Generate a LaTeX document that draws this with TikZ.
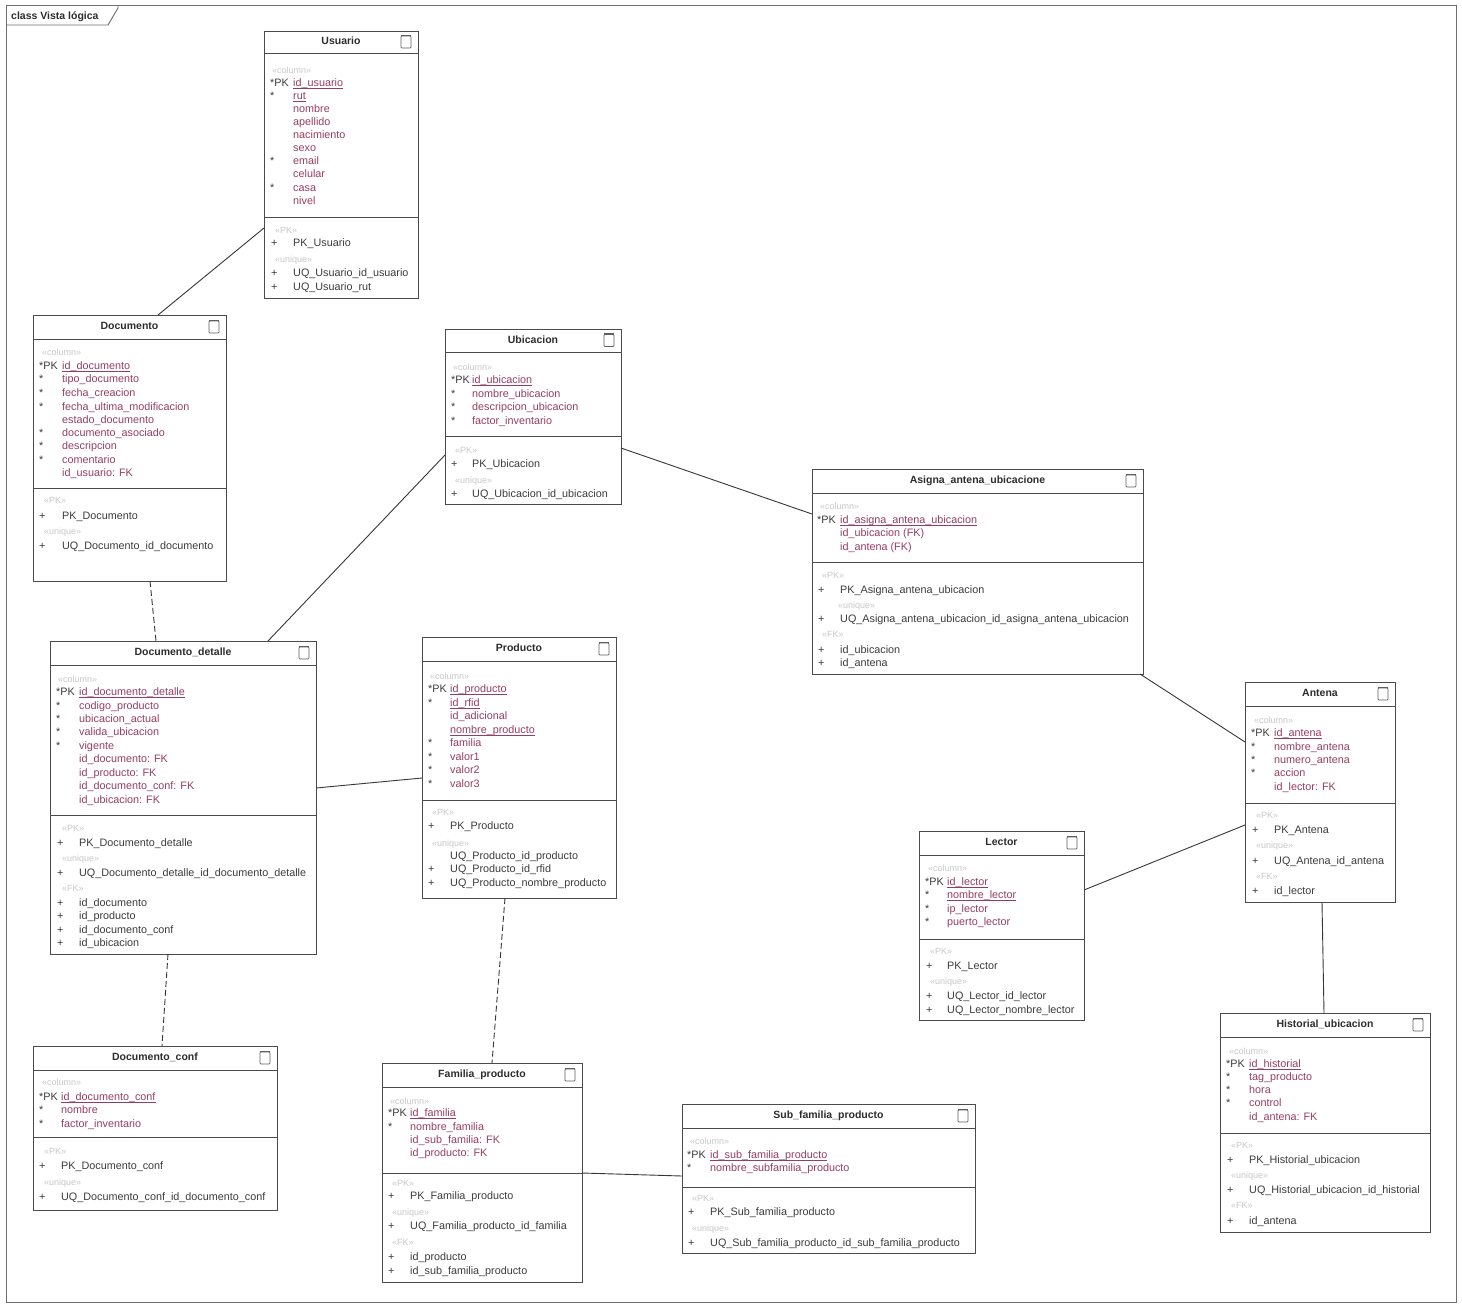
\documentclass[tikz,border=0pt]{standalone}
\usepackage{fontspec}
\setmainfont{Liberation Sans}
\usetikzlibrary{fit}

\definecolor{framec}{RGB}{110,110,110}
\definecolor{boxc}{RGB}{75,75,75}
\definecolor{titlec}{RGB}{45,45,45}
\definecolor{attrc}{RGB}{150,62,98}
\definecolor{opc}{RGB}{60,60,60}
\definecolor{sterc}{RGB}{200,200,200}
\definecolor{linkc}{RGB}{55,55,55}
\definecolor{iconc}{RGB}{95,95,95}

\tikzset{
  cbox/.style={draw=boxc, line width=0.9pt, fill=white, inner sep=0pt, outer sep=0pt},
  cdiv/.style={draw=boxc, line width=0.9pt},
  ctitle/.style={font=\fontsize{10.5}{12}\selectfont\bfseries, text=titlec, inner sep=0pt,
    text height=7.5pt, text depth=2pt},
  cicon/.style={draw=iconc, line width=0.7pt, minimum width=10pt, minimum height=12pt,
    inner sep=0pt, rounded corners=0.8pt},
  cicontop/.style={draw=iconc, line width=1.6pt},
  rowtext/.style={inner sep=0pt, anchor=base west, font=\fontsize{10.8}{12}\selectfont},
  ster/.style={rowtext, text=sterc, font=\fontsize{9}{10}\selectfont},
  rowmark/.style={rowtext, text=opc},
  attr/.style={rowtext, text=attrc},
  keyline/.style={draw=attrc, line width=0.6pt},
  oper/.style={rowtext, text=opc},
  assoc/.style={draw=linkc, line width=0.9pt},
  depend/.style={draw=linkc, line width=0.9pt, dash pattern=on 6pt off 3pt},
  framelabel/.style={font=\fontsize{10.5}{12}\selectfont\bfseries, text=titlec,
    inner sep=0pt, anchor=base west},
}

% class box: name, x1, y1, x2, y2, header line, attribute line, title
\newcommand\umlclass[8]{%
  \node[cbox, fit={(#2,#3) (#4,#5)}] (#1) {};
  \draw[cdiv] (#1.west |- 0,#6) -- (#1.east |- 0,#6);
  \draw[cdiv] (#1.west |- 0,#7) -- (#1.east |- 0,#7);
  \node[ctitle] (#1-title) at ({(#2+#4)/2},{(#3+#6)/2}) {#8};
  \node[cicon] (#1-icon) at ({#4-12},{(#3+#6)/2}) {};
  \draw[cicontop] (#1-icon.north west) -- (#1-icon.north east);
}

\newcount\umlrow
\newcommand\umlst[3]{\global\advance\umlrow by 1\relax
  \node[ster] (st\the\umlrow) at (#1,{#2+3.5}) {#3};}
\newcommand\umlmark[3]{\if\relax\detokenize{#3}\relax\else
  \node[rowmark] (mk\the\umlrow) at (#1,{#2+3.5}) {#3};\fi}
% attribute row: marker x, name x, y, marker, name
\newcommand\umlat[5]{\global\advance\umlrow by 1\relax
  \umlmark{#1}{#3}{#4}%
  \node[attr] (at\the\umlrow) at (#2,{#3+3.5}) {#5};}
% key attribute row, underlined just below the baseline
\newcommand\umlkey[5]{\global\advance\umlrow by 1\relax
  \umlmark{#1}{#3}{#4}%
  \node[attr] (at\the\umlrow) at (#2,{#3+3.5}) {#5};
  \draw[keyline] ([yshift=-2pt]at\the\umlrow.base west) -- ([yshift=-2pt]at\the\umlrow.base east);}
\newcommand\umlop[5]{\global\advance\umlrow by 1\relax
  \umlmark{#1}{#3}{#4}%
  \node[oper] (op\the\umlrow) at (#2,{#3+3.5}) {#5};}

\begin{document}
\begin{tikzpicture}[x=1pt, y=-1pt]
\useasboundingbox (0,0) rectangle (1462,1307);
\fill[white] (0,0) rectangle (1462,1307);

% diagram frame and its name tag
\draw[framec, line width=0.9pt] (6,5) rectangle (1456,1302);
\draw[framec, line width=0.9pt] (6,25) -- (108,25) -- (118,8) -- (118,5);
\node[framelabel] (frame-name) at (11,19) {class Vista lógica};

% ---------------- Usuario ----------------
\umlclass{usuario}{264}{31}{418}{298}{53}{217}{Usuario}
\umlst{272}{70}{«column»}
\umlkey{270}{293}{83}{*PK}{id\_usuario}
\umlkey{270}{293}{96}{*}{rut}
\umlat{270}{293}{109}{}{nombre}
\umlat{270}{293}{122}{}{apellido}
\umlat{270}{293}{135}{}{nacimiento}
\umlat{270}{293}{148}{}{sexo}
\umlat{270}{293}{161}{*}{email}
\umlat{270}{293}{174}{}{celular}
\umlat{270}{293}{188}{*}{casa}
\umlat{270}{293}{201}{}{nivel}
\umlst{275}{230}{«PK»}
\umlop{271}{293}{243}{+}{PK\_Usuario}
\umlst{275}{259}{«unique»}
\umlop{271}{293}{273}{+}{UQ\_Usuario\_id\_usuario}
\umlop{271}{293}{287}{+}{UQ\_Usuario\_rut}

% ---------------- Documento ----------------
\umlclass{documento}{33}{315}{226}{581}{339}{488}{Documento}
\umlst{42}{352}{«column»}
\umlkey{39}{62}{366}{*PK}{id\_documento}
\umlat{39}{62}{379}{*}{tipo\_documento}
\umlat{39}{62}{393}{*}{fecha\_creacion}
\umlat{39}{62}{407}{*}{fecha\_ultima\_modificacion}
\umlat{39}{62}{420}{}{estado\_documento}
\umlat{39}{62}{433}{*}{documento\_asociado}
\umlat{39}{62}{446}{*}{descripcion}
\umlat{39}{62}{460}{*}{comentario}
\umlat{39}{62}{473}{}{id\_usuario: FK}
\umlst{44}{500}{«PK»}
\umlop{39}{62}{516}{+}{PK\_Documento}
\umlst{44}{531}{«unique»}
\umlop{39}{62}{546}{+}{UQ\_Documento\_id\_documento}

% ---------------- Ubicacion ----------------
\umlclass{ubicacion}{445}{329}{621}{504}{352}{436}{Ubicacion}
\umlst{453}{367}{«column»}
\umlkey{451}{472}{380}{*PK}{id\_ubicacion}
\umlat{451}{472}{394}{*}{nombre\_ubicacion}
\umlat{451}{472}{407}{*}{descripcion\_ubicacion}
\umlat{451}{472}{421}{*}{factor\_inventario}
\umlst{455}{450}{«PK»}
\umlop{451}{472}{464}{+}{PK\_Ubicacion}
\umlst{455}{480}{«unique»}
\umlop{451}{472}{494}{+}{UQ\_Ubicacion\_id\_ubicacion}

% ---------------- Asigna_antena_ubicacione ----------------
\umlclass{asigna}{812}{469}{1143}{674}{493}{562}{Asigna\_antena\_ubicacione}
\umlst{820}{506}{«column»}
\umlkey{817}{840}{520}{*PK}{id\_asigna\_antena\_ubicacion}
\umlat{817}{840}{533}{}{id\_ubicacion (FK)}
\umlat{817}{840}{547}{}{id\_antena (FK)}
\umlst{822}{575}{«PK»}
\umlop{818}{840}{590}{+}{PK\_Asigna\_antena\_ubicacion}
\umlst{838}{605}{«unique»}
\umlop{818}{840}{619}{+}{UQ\_Asigna\_antena\_ubicacion\_id\_asigna\_antena\_ubicacion}
\umlst{822}{634}{«FK»}
\umlop{818}{840}{650}{+}{id\_ubicacion}
\umlop{818}{840}{663}{+}{id\_antena}

% ---------------- Documento_detalle ----------------
\umlclass{detalle}{50}{641}{316}{954}{665}{815}{Documento\_detalle}
\umlst{58}{679}{«column»}
\umlkey{56}{79}{692}{*PK}{id\_documento\_detalle}
\umlat{56}{79}{706}{*}{codigo\_producto}
\umlat{56}{79}{719}{*}{ubicacion\_actual}
\umlat{56}{79}{732}{*}{valida\_ubicacion}
\umlat{56}{79}{746}{*}{vigente}
\umlat{56}{79}{759}{}{id\_documento: FK}
\umlat{56}{79}{773}{}{id\_producto: FK}
\umlat{56}{79}{786}{}{id\_documento\_conf: FK}
\umlat{56}{79}{800}{}{id\_ubicacion: FK}
\umlst{62}{828}{«PK»}
\umlop{57}{79}{843}{+}{PK\_Documento\_detalle}
\umlst{62}{858}{«unique»}
\umlop{57}{79}{873}{+}{UQ\_Documento\_detalle\_id\_documento\_detalle}
\umlst{62}{888}{«FK»}
\umlop{57}{79}{903}{+}{id\_documento}
\umlop{57}{79}{916}{+}{id\_producto}
\umlop{57}{79}{930}{+}{id\_documento\_conf}
\umlop{57}{79}{943}{+}{id\_ubicacion}

% ---------------- Producto ----------------
\umlclass{producto}{422}{637}{616}{898}{661}{800}{Producto}
\umlst{430}{676}{«column»}
\umlkey{428}{450}{689}{*PK}{id\_producto}
\umlkey{428}{450}{703}{*}{id\_rfid}
\umlat{428}{450}{716}{}{id\_adicional}
\umlkey{428}{450}{730}{}{nombre\_producto}
\umlat{428}{450}{743}{*}{familia}
\umlat{428}{450}{757}{*}{valor1}
\umlat{428}{450}{770}{*}{valor2}
\umlat{428}{450}{784}{*}{valor3}
\umlst{432}{812}{«PK»}
\umlop{428}{450}{826}{+}{PK\_Producto}
\umlst{432}{843}{«unique»}
\umlop{428}{450}{856}{}{UQ\_Producto\_id\_producto}
\umlop{428}{450}{869}{+}{UQ\_Producto\_id\_rfid}
\umlop{428}{450}{883}{+}{UQ\_Producto\_nombre\_producto}

% ---------------- Antena ----------------
\umlclass{antena}{1245}{682}{1395}{902}{706}{803}{Antena}
\umlst{1254}{720}{«column»}
\umlkey{1251}{1274}{733}{*PK}{id\_antena}
\umlat{1251}{1274}{747}{*}{nombre\_antena}
\umlat{1251}{1274}{760}{*}{numero\_antena}
\umlat{1251}{1274}{773}{*}{accion}
\umlat{1251}{1274}{787}{}{id\_lector: FK}
\umlst{1256}{815}{«PK»}
\umlop{1252}{1274}{830}{+}{PK\_Antena}
\umlst{1256}{845}{«unique»}
\umlop{1252}{1274}{861}{+}{UQ\_Antena\_id\_antena}
\umlst{1256}{876}{«FK»}
\umlop{1252}{1274}{891}{+}{id\_lector}

% ---------------- Lector ----------------
\umlclass{lector}{919}{831}{1084}{1020}{855}{939}{Lector}
\umlst{928}{868}{«column»}
\umlkey{925}{947}{882}{*PK}{id\_lector}
\umlkey{925}{947}{895}{*}{nombre\_lector}
\umlat{925}{947}{909}{*}{ip\_lector}
\umlat{925}{947}{922}{*}{puerto\_lector}
\umlst{930}{951}{«PK»}
\umlop{926}{947}{966}{+}{PK\_Lector}
\umlst{930}{981}{«unique»}
\umlop{926}{947}{996}{+}{UQ\_Lector\_id\_lector}
\umlop{926}{947}{1010}{+}{UQ\_Lector\_nombre\_lector}

% ---------------- Historial_ubicacion ----------------
\umlclass{historial}{1220}{1013}{1430}{1232}{1037}{1133}{Historial\_ubicacion}
\umlst{1229}{1051}{«column»}
\umlkey{1226}{1249}{1064}{*PK}{id\_historial}
\umlat{1226}{1249}{1077}{*}{tag\_producto}
\umlat{1226}{1249}{1090}{*}{hora}
\umlat{1226}{1249}{1103}{*}{control}
\umlat{1226}{1249}{1117}{}{id\_antena: FK}
\umlst{1231}{1145}{«PK»}
\umlop{1227}{1249}{1160}{+}{PK\_Historial\_ubicacion}
\umlst{1231}{1175}{«unique»}
\umlop{1227}{1249}{1190}{+}{UQ\_Historial\_ubicacion\_id\_historial}
\umlst{1231}{1205}{«FK»}
\umlop{1227}{1249}{1221}{+}{id\_antena}

% ---------------- Documento_conf ----------------
\umlclass{conf}{33}{1046}{277}{1210}{1070}{1137}{Documento\_conf}
\umlst{42}{1082}{«column»}
\umlkey{39}{61}{1097}{*PK}{id\_documento\_conf}
\umlat{39}{61}{1110}{*}{nombre}
\umlat{39}{61}{1124}{*}{factor\_inventario}
\umlst{44}{1151}{«PK»}
\umlop{39}{61}{1166}{+}{PK\_Documento\_conf}
\umlst{44}{1182}{«unique»}
\umlop{39}{61}{1197}{+}{UQ\_Documento\_conf\_id\_documento\_conf}

% ---------------- Familia_producto ----------------
\umlclass{familia}{382}{1063}{582}{1282}{1087}{1173}{Familia\_producto}
\umlst{390}{1101}{«column»}
\umlkey{388}{410}{1113}{*PK}{id\_familia}
\umlat{388}{410}{1127}{*}{nombre\_familia}
\umlat{388}{410}{1140}{}{id\_sub\_familia: FK}
\umlat{388}{410}{1153}{}{id\_producto: FK}
\umlst{392}{1183}{«PK»}
\umlop{388}{410}{1196}{+}{PK\_Familia\_producto}
\umlst{392}{1212}{«unique»}
\umlop{388}{410}{1226}{+}{UQ\_Familia\_producto\_id\_familia}
\umlst{392}{1242}{«FK»}
\umlop{388}{410}{1257}{+}{id\_producto}
\umlop{388}{410}{1271}{+}{id\_sub\_familia\_producto}

% ---------------- Sub_familia_producto ----------------
\umlclass{subfamilia}{682}{1104}{975}{1253}{1128}{1187}{Sub\_familia\_producto}
\umlst{690}{1141}{«column»}
\umlkey{687}{710}{1155}{*PK}{id\_sub\_familia\_producto}
\umlat{687}{710}{1168}{*}{nombre\_subfamilia\_producto}
\umlst{692}{1198}{«PK»}
\umlop{688}{710}{1212}{+}{PK\_Sub\_familia\_producto}
\umlst{692}{1228}{«unique»}
\umlop{688}{710}{1243}{+}{UQ\_Sub\_familia\_producto\_id\_sub\_familia\_producto}

% ---------------- associations ----------------
\draw[assoc]  (usuario.west |- 0,228) -- (documento.north -| 158,0);
\draw[depend] (documento.south -| 150,0) -- (detalle.north -| 156,0);
\draw[assoc]  (ubicacion.west |- 0,455) -- (detalle.north -| 268,0);
\draw[assoc]  (ubicacion.east |- 0,448) -- (asigna.west |- 0,514);
\draw[assoc]  (asigna.south -| 1140,0) -- (antena.west |- 0,742);
\draw[assoc]  (lector.east |- 0,890) -- (antena.west |- 0,825);
\draw[assoc]  (antena.south -| 1322,0) -- (historial.north -| 1324,0);
\draw[assoc]  (detalle.east |- 0,788) -- (producto.west |- 0,778);
\draw[depend] (detalle.south -| 168,0) -- (conf.north -| 162,0);
\draw[depend] (producto.south -| 505,0) -- (familia.north -| 492,0);
\draw[assoc]  (familia.east |- 0,1173) -- (subfamilia.west |- 0,1176);
\end{tikzpicture}
\end{document}
